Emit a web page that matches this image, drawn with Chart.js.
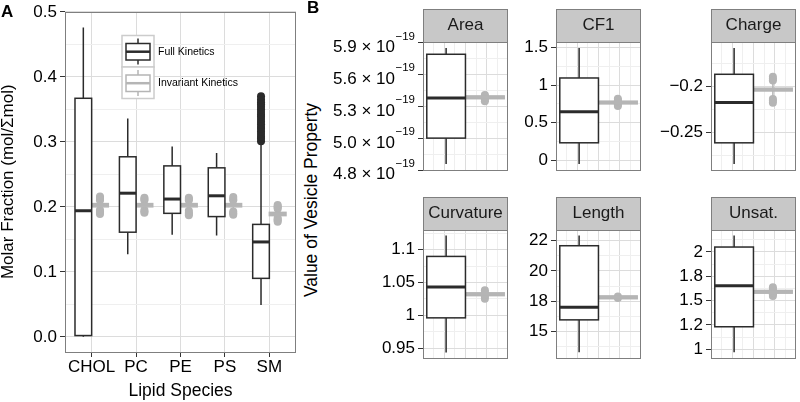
<!DOCTYPE html>
<html>
<head>
<meta charset="utf-8">
<script src="https://cdn.jsdelivr.net/npm/chart.js@4.4.0/dist/chart.umd.min.js"></script>
<style>
  html, body { margin: 0; padding: 0; background: #fff; }
  #wrap { position: relative; width: 800px; height: 402px; overflow: hidden; font-family: "Liberation Sans", Arial, sans-serif; }
  canvas { position: absolute; }
  .lbl { position: absolute; line-height: 1; white-space: nowrap; color: #000; }
</style>
</head>
<body>
<div id="wrap">
  <canvas id="panelA" width="300" height="402" style="left:0;top:0"></canvas>
  <canvas id="f0" width="187" height="173" style="left:325px;top:9px"></canvas>
  <canvas id="f1" width="130" height="173" style="left:515px;top:9px"></canvas>
  <canvas id="f2" width="145" height="173" style="left:655px;top:9px"></canvas>
  <canvas id="f3" width="187" height="173" style="left:325px;top:197px"></canvas>
  <canvas id="f4" width="130" height="173" style="left:515px;top:197px"></canvas>
  <canvas id="f5" width="145" height="173" style="left:655px;top:197px"></canvas>
  <div class="lbl" style="left:1px;top:3px;font-size:17px;font-weight:bold">A</div>
  <div class="lbl" style="left:307px;top:-1px;font-size:17px;font-weight:bold">B</div>
  <div class="lbl" style="left:311.5px;top:200px;font-size:17.5px;transform:translate(-50%,-50%) rotate(-90deg)">Value of Vesicle Property</div>
</div>
<script>
// ---- panel A data: lipid molar fractions ----
const lipidSpecies = ['CHOL', 'PC', 'PE', 'PS', 'SM'];
const kineticsNames = ['Full Kinetics', 'Invariant Kinetics'];

const fullLow  = [0.000, 0.127, 0.157, 0.156, 0.049];
const fullQ1   = [0.002, 0.161, 0.190, 0.185, 0.090];
const fullMed  = [0.194, 0.221, 0.212, 0.217, 0.146];
const fullQ3   = [0.367, 0.277, 0.263, 0.260, 0.173];
const fullHigh = [0.476, 0.336, 0.293, 0.283, 0.295];
const fullOut  = [[], [], [], [],
  [0.301, 0.305, 0.308, 0.312, 0.316, 0.320, 0.323, 0.327, 0.331, 0.335, 0.339, 0.342, 0.346, 0.350, 0.354, 0.358, 0.361, 0.365, 0.370]];

const invLow  = [0.196, 0.196, 0.196, 0.196, 0.183];
const invQ1   = [0.200, 0.200, 0.200, 0.200, 0.1865];
const invMed  = [0.2025, 0.2025, 0.2025, 0.2025, 0.189];
const invQ3   = [0.205, 0.205, 0.205, 0.205, 0.1915];
const invHigh = [0.209, 0.209, 0.209, 0.209, 0.196];
const invOut  = [
  [0.189, 0.191, 0.193, 0.195, 0.210, 0.212, 0.214, 0.216],
  [0.191, 0.193, 0.195, 0.210, 0.212, 0.214],
  [0.187, 0.189, 0.191, 0.194, 0.210, 0.212, 0.214],
  [0.188, 0.190, 0.193, 0.210, 0.212, 0.215],
  [0.177, 0.179, 0.181, 0.183, 0.197, 0.199, 0.201, 0.203]];

const yTicksA = [0, 0.1, 0.2, 0.3, 0.4, 0.5];
const yLabelsA = ['0.0', '0.1', '0.2', '0.3', '0.4', '0.5'];
const yMinorA = [0.05, 0.15, 0.25, 0.35, 0.45];

// ---- panel B data: vesicle properties ----
const facetNames = ['Area', 'CF1', 'Charge', 'Curvature', 'Length', 'Unsat.'];
const facetFullLow  = [4.804e-19, -0.049, -0.284, 0.943, 13.53, 0.968];
const facetFullQ1   = [5.032e-19, 0.233, -0.261, 0.996, 16.11, 1.231];
const facetFullMed  = [5.386e-19, 0.646, -0.2173, 1.043, 17.12, 1.653];
const facetFullQ3   = [5.770e-19, 1.094, -0.1867, 1.0897, 22.0, 2.05];
const facetFullHigh = [5.825e-19, 1.491, -0.1583, 1.1217, 22.82, 2.168];
const facetInvLow   = [5.36e-19, 0.73, -0.211, 1.026, 17.75, 1.55];
const facetInvQ1    = [5.379e-19, 0.750, -0.2048, 1.0299, 17.79, 1.576];
const facetInvMed   = [5.391e-19, 0.768, -0.2033, 1.032, 17.9, 1.590];
const facetInvQ3    = [5.403e-19, 0.786, -0.2018, 1.0341, 18.01, 1.604];
const facetInvHigh  = [5.42e-19, 0.81, -0.196, 1.037, 18.05, 1.63];
const facetInvOut = [
  [5.357e-19, 5.372e-19, 5.387e-19, 5.399e-19, 5.412e-19],
  [0.723, 0.742, 0.760, 0.779, 0.798, 0.817],
  [-0.1895, -0.1915, -0.1935, -0.2135, -0.2155, -0.2175],
  [1.025, 1.028, 1.031, 1.035, 1.038],
  [17.84, 17.97],
  [1.546, 1.565, 1.584, 1.602, 1.620, 1.638]];

const facetYMin = [4.747e-19, -0.135, -0.291, 0.934, 13.04, 0.905];
const facetYMax = [5.878e-19, 1.572, -0.1517, 1.130, 23.25, 2.225];
const facetTicks = [
  [4.75e-19, 5.03e-19, 5.31e-19, 5.59e-19, 5.87e-19],
  [0, 0.5, 1, 1.5],
  [-0.25, -0.2],
  [0.95, 1, 1.05, 1.1],
  [15.2, 17.6, 20, 22.4],
  [1, 1.25, 1.5, 1.75, 2]];
// "a^b" = a with superscript b
const facetTickLabels = [
  ['4.8 × 10^−19', '5.0 × 10^−19', '5.3 × 10^−19', '5.6 × 10^−19', '5.9 × 10^−19'],
  ['0', '0.5', '1', '1.5'],
  ['−0.25', '−0.2'],
  ['0.95', '1', '1.05', '1.1'],
  ['15', '18', '20', '22'],
  ['1', '1.2', '1.5', '1.8', '2']];
const facetMinor = [
  [4.89e-19, 5.17e-19, 5.45e-19, 5.73e-19],
  [0.25, 0.75, 1.25],
  [-0.275, -0.225, -0.175],
  [0.975, 1.025, 1.075, 1.125],
  [14.0, 16.4, 18.8, 21.2],
  [1.125, 1.375, 1.625, 1.875, 2.125]];
const facetAxisWidth = [98, 41, 56, 98, 41, 56];
const facetXMajor = [-0.25, 0, 0.25];
const facetXMinor = [-0.375, -0.125, 0.125, 0.375];

// ---- styling ----
const FONT = '"Liberation Sans", Arial, sans-serif';
Chart.defaults.font.family = FONT;
Chart.defaults.color = '#000';
const BLACK = '#2b2b2b', GREY = '#b5b5b5';
const GRID_MAJOR = '#dcdcdc', GRID_MINOR = '#efefef', TICK = '#333333', BORDER = '#7f7f7f', STRIP = '#c8c8c8';
const TICK_LEN = 5, TICK_PAD = 3;

function near(list, v, eps) {
  return list.findIndex(t => Math.abs(t - v) <= eps);
}

function yAxis(min, max, major, labels, minor, width, extra) {
  const eps = (max - min) * 1e-6;
  const isMajor = c => c.tick && near(major, c.tick.value, eps) >= 0;
  return Object.assign({
    type: 'linear', min: min, max: max,
    afterBuildTicks: s => { s.ticks = major.concat(minor).sort((a, b) => a - b).map(v => ({ value: v })); },
    afterFit: s => { s.width = width; },
    border: { display: false },
    grid: {
      color: c => isMajor(c) ? GRID_MAJOR : GRID_MINOR,
      tickColor: c => isMajor(c) ? TICK : 'rgba(0,0,0,0)',
      tickLength: TICK_LEN, lineWidth: 1
    },
    ticks: {
      autoSkip: false, padding: TICK_PAD, color: '#000', font: { size: 17, lineHeight: 1 },
      callback: v => {
        const i = near(major, v, eps);
        if (i < 0 || labels[i].indexOf('^') >= 0) return '';
        return labels[i];
      }
    }
  }, extra || {});
}

// tick labels with a superscript part, drawn at the y scale's tick pixels
function superLabelsPlugin(values, labels) {
  return {
    id: 'superLabels',
    afterDraw(chart) {
      const { ctx, scales: { y } } = chart;
      const xr = y.right - TICK_LEN - TICK_PAD;
      ctx.save();
      ctx.fillStyle = '#000';
      ctx.textAlign = 'right';
      ctx.textBaseline = 'middle';
      labels.forEach((lab, i) => {
        if (lab.indexOf('^') < 0) return;
        const parts = lab.split('^');
        const py = y.getPixelForValue(values[i]);
        ctx.font = '11.5px ' + FONT;
        ctx.fillText(parts[1], xr, py - 6.5);
        const ew = ctx.measureText(parts[1]).width;
        ctx.font = '17px ' + FONT;
        ctx.fillText(parts[0], xr - ew - 0.5, py + 4.5);
      });
      ctx.restore();
    }
  };
}

// box + whiskers + median, placed through the chart scales
function boxesPlugin(items) {
  return {
    id: 'boxes',
    afterDatasetsDraw(chart) {
      const { ctx, scales: { x, y } } = chart;
      ctx.save();
      items.forEach(b => {
        const xl = x.getPixelForValue(b.x - b.w / 2);
        const xr = x.getPixelForValue(b.x + b.w / 2);
        const xc = x.getPixelForValue(b.x);
        const yHi = y.getPixelForValue(b.high), yQ3 = y.getPixelForValue(b.q3);
        const yQ1 = y.getPixelForValue(b.q1), yLo = y.getPixelForValue(b.low);
        const yMed = y.getPixelForValue(b.med);
        ctx.strokeStyle = b.color;
        ctx.lineWidth = 1.5;
        ctx.beginPath();
        ctx.moveTo(xc, yHi); ctx.lineTo(xc, yQ3);
        ctx.moveTo(xc, yQ1); ctx.lineTo(xc, yLo);
        ctx.stroke();
        ctx.fillStyle = '#fff';
        ctx.fillRect(xl, yQ3, xr - xl, yQ1 - yQ3);
        ctx.strokeRect(xl, yQ3, xr - xl, yQ1 - yQ3);
        ctx.lineWidth = 3;
        ctx.beginPath();
        ctx.moveTo(xl, yMed); ctx.lineTo(xr, yMed);
        ctx.stroke();
      });
      ctx.restore();
    }
  };
}

const frame = {
  id: 'frame',
  afterDraw(chart) {
    const { ctx, chartArea: a } = chart;
    ctx.save();
    ctx.strokeStyle = BORDER;
    ctx.lineWidth = 1;
    ctx.strokeRect(Math.round(a.left) + 0.5, Math.round(a.top) + 0.5,
      Math.round(a.right - a.left) - 1, Math.round(a.bottom - a.top) - 1);
    ctx.restore();
  }
};

function stripPlugin(title) {
  return {
    id: 'strip',
    afterDraw(chart) {
      const { ctx, chartArea: a } = chart;
      const h = 33;
      ctx.save();
      ctx.fillStyle = STRIP;
      ctx.fillRect(a.left, a.top - h, a.right - a.left, h);
      ctx.strokeStyle = BORDER;
      ctx.lineWidth = 1;
      ctx.strokeRect(Math.round(a.left) + 0.5, Math.round(a.top - h) + 0.5, Math.round(a.right - a.left) - 1, h);
      ctx.fillStyle = '#1a1a1a';
      ctx.font = '17px ' + FONT;
      ctx.textAlign = 'center';
      ctx.textBaseline = 'middle';
      ctx.fillText(title, (a.left + a.right) / 2, a.top - h / 2);
      ctx.restore();
    }
  };
}

const legendA = {
  id: 'legendA',
  afterDraw(chart) {
    const { ctx, chartArea: a } = chart;
    const x0 = a.left + 57, y0 = a.top + 24, w = 32, h = 31.5;
    ctx.save();
    kineticsNames.forEach((name, k) => {
      const top = y0 + k * h;
      ctx.fillStyle = '#fff';
      ctx.fillRect(x0, top, w, h);
      ctx.strokeStyle = '#cccccc';
      ctx.lineWidth = 1.5;
      ctx.strokeRect(x0, top, w, h);
      const col = k === 0 ? BLACK : GREY;
      const cx = x0 + w / 2;
      ctx.strokeStyle = col;
      ctx.lineWidth = 1.5;
      ctx.beginPath(); ctx.moveTo(cx, top + 3); ctx.lineTo(cx, top + 29); ctx.stroke();
      ctx.fillStyle = '#fff';
      ctx.fillRect(x0 + 4, top + 8, 24, 16.5);
      ctx.strokeRect(x0 + 4, top + 8, 24, 16.5);
      ctx.lineWidth = 2.5;
      ctx.beginPath(); ctx.moveTo(x0 + 4, top + 16.2); ctx.lineTo(x0 + 28, top + 16.2); ctx.stroke();
      ctx.fillStyle = '#000';
      ctx.font = '10.5px ' + FONT;
      ctx.textAlign = 'left';
      ctx.textBaseline = 'middle';
      ctx.fillText(name, x0 + w + 4, top + h / 2 + 0.5);
    });
    ctx.restore();
  }
};

// ---- panel A ----
const DODGE_A = 0.1875, BOXW_A = 0.375;
const boxesA = [], outFullA = [], outInvA = [];
lipidSpecies.forEach((s, i) => {
  boxesA.push({ x: i + DODGE_A, w: BOXW_A, low: invLow[i], q1: invQ1[i], med: invMed[i], q3: invQ3[i], high: invHigh[i], color: GREY });
  boxesA.push({ x: i - DODGE_A, w: BOXW_A, low: fullLow[i], q1: fullQ1[i], med: fullMed[i], q3: fullQ3[i], high: fullHigh[i], color: BLACK });
  fullOut[i].forEach(v => outFullA.push({ x: i - DODGE_A, y: v }));
  invOut[i].forEach(v => outInvA.push({ x: i + DODGE_A, y: v }));
});

new Chart(document.getElementById('panelA'), {
  type: 'scatter',
  data: {
    datasets: [
      { label: kineticsNames[1], data: outInvA, backgroundColor: GREY, borderWidth: 0, pointRadius: 4 },
      { label: kineticsNames[0], data: outFullA, backgroundColor: BLACK, borderWidth: 0, pointRadius: 4 }
    ]
  },
  options: {
    responsive: false, maintainAspectRatio: false, animation: false, events: [],
    layout: { padding: { left: 0, top: 8, right: 4, bottom: 0 } },
    plugins: { legend: { display: false }, tooltip: { enabled: false } },
    scales: {
      x: {
        type: 'linear', min: -0.6, max: 4.6,
        afterBuildTicks: s => { s.ticks = lipidSpecies.map((c, i) => ({ value: i })); },
        afterFit: s => { s.height = 50; },
        border: { display: false },
        grid: { color: GRID_MAJOR, tickColor: TICK, tickLength: TICK_LEN },
        ticks: { autoSkip: false, maxRotation: 0, padding: 2, color: '#000', font: { size: 17, lineHeight: 1 },
          callback: v => lipidSpecies[Math.round(v)] },
        title: { display: true, text: 'Lipid Species', color: '#000', font: { size: 17.5, lineHeight: 1 }, padding: { top: 0, bottom: 2.2 } }
      },
      y: yAxis(-0.0233, 0.5005, yTicksA, yLabelsA, yMinorA, 65, {
        title: { display: true, text: 'Molar Fraction (mol/Σmol)', color: '#000', font: { size: 17, lineHeight: 1 }, padding: { top: 0, bottom: 0 } }
      })
    }
  },
  plugins: [boxesPlugin(boxesA), frame, legendA]
});

// ---- panel B facets ----
const DODGE_B = 0.228, BOXW_B = 0.455;
facetNames.forEach((name, f) => {
  const boxes = [
    { x: DODGE_B, w: BOXW_B, low: facetInvLow[f], q1: facetInvQ1[f], med: facetInvMed[f], q3: facetInvQ3[f], high: facetInvHigh[f], color: GREY },
    { x: -DODGE_B, w: BOXW_B, low: facetFullLow[f], q1: facetFullQ1[f], med: facetFullMed[f], q3: facetFullQ3[f], high: facetFullHigh[f], color: BLACK }
  ];
  const outs = facetInvOut[f].map(v => ({ x: DODGE_B, y: v }));
  new Chart(document.getElementById('f' + f), {
    type: 'scatter',
    data: { datasets: [{ label: kineticsNames[1], data: outs, backgroundColor: GREY, borderWidth: 0, pointRadius: 4 }] },
    options: {
      responsive: false, maintainAspectRatio: false, animation: false, events: [],
      layout: { padding: { left: 0, top: 33, right: 1, bottom: 1 } },
      plugins: { legend: { display: false }, tooltip: { enabled: false } },
      scales: {
        x: {
          type: 'linear', min: -0.5, max: 0.5,
          afterBuildTicks: s => { s.ticks = facetXMajor.concat(facetXMinor).sort((a, b) => a - b).map(v => ({ value: v })); },
          afterFit: s => { s.height = 0; },
          border: { display: false },
          grid: { drawTicks: false, color: c => (c.tick && facetXMajor.indexOf(c.tick.value) >= 0) ? GRID_MAJOR : GRID_MINOR },
          ticks: { display: false }
        },
        y: yAxis(facetYMin[f], facetYMax[f], facetTicks[f], facetTickLabels[f], facetMinor[f], facetAxisWidth[f])
      }
    },
    plugins: [boxesPlugin(boxes), frame, stripPlugin(name), superLabelsPlugin(facetTicks[f], facetTickLabels[f])]
  });
});
</script>
</body>
</html>
